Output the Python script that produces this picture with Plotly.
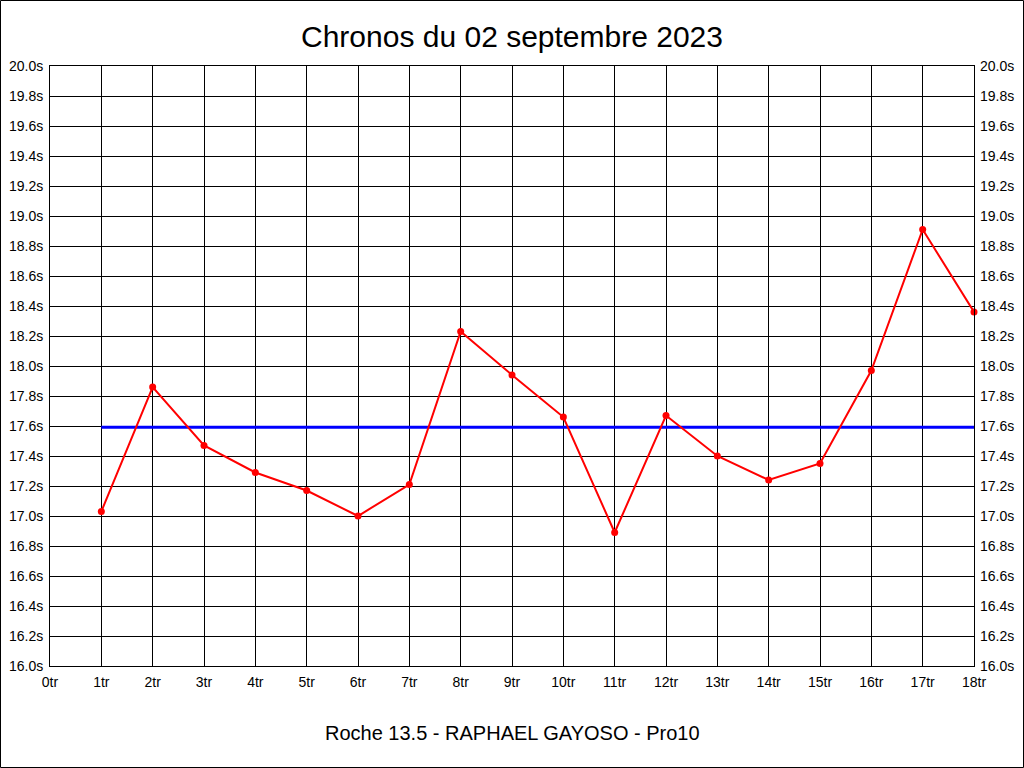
import plotly.graph_objects as go

laps = list(range(1, 19))
times = [17.03, 17.86, 17.47, 17.29, 17.17, 17.00, 17.21, 18.23, 17.94,
         17.66, 16.89, 17.67, 17.40, 17.24, 17.35, 17.97, 18.91, 18.36]
x_tickvals = list(range(0, 19))
x_ticktext = [f"{i}tr" for i in x_tickvals]
y_tickvals = [round(16.0 + 0.2 * i, 1) for i in range(21)]
y_ticktext = [f"{v:.1f}s" for v in y_tickvals]
title = "Chronos du 02 septembre 2023"
subtitle = "Roche 13.5 - RAPHAEL GAYOSO - Pro10"

avg = sum(times) / len(times)

W, H = 1024, 768
ml, mr, mt, mb = 50, 50, 66, 102
pw, ph = W - ml - mr, H - mt - mb

FONT = "Liberation Sans, Arial, sans-serif"

fig = go.Figure()
fig.add_trace(go.Scatter(x=[laps[0], laps[-1]], y=[avg, avg], mode="lines",
                         line=dict(color="#0000ff", width=3), hoverinfo="skip"))
fig.add_trace(go.Scatter(x=laps, y=times, mode="lines+markers",
                         line=dict(color="#ff0000", width=2),
                         marker=dict(color="#ff0000", size=7), cliponaxis=False))
fig.add_trace(go.Scatter(x=[0], y=[16.0], yaxis="y2", mode="markers",
                         marker=dict(opacity=0), hoverinfo="skip"))

axis_font = dict(family=FONT, size=14, color="black")
fig.update_layout(
    width=W, height=H,
    margin=dict(l=ml, r=mr, t=mt, b=mb, autoexpand=False),
    paper_bgcolor="white", plot_bgcolor="white",
    showlegend=False,
    title=dict(text=title, x=0.5, xanchor="center", y=1 - 36 / H, yanchor="middle",
               font=dict(family=FONT, size=30, color="black")),
    xaxis=dict(range=[0, 18], tickmode="array", tickvals=x_tickvals, ticktext=x_ticktext,
               showgrid=True, gridcolor="black", gridwidth=1, zeroline=False,
               showline=True, linecolor="black", linewidth=1, mirror=True,
               ticks="", tickfont=axis_font, ticklabelstandoff=3),
    yaxis=dict(range=[16.0, 20.0], tickmode="array", tickvals=y_tickvals, ticktext=y_ticktext,
               showgrid=True, gridcolor="black", gridwidth=1, zeroline=False,
               showline=True, linecolor="black", linewidth=1, mirror=True,
               ticks="", tickfont=axis_font, ticklabelstandoff=3),
    yaxis2=dict(range=[16.0, 20.0], tickmode="array", tickvals=y_tickvals, ticktext=y_ticktext,
                overlaying="y", side="right", showgrid=False, zeroline=False,
                showline=False, ticks="", tickfont=axis_font, ticklabelstandoff=5),
    annotations=[dict(text=subtitle, xref="paper", yref="paper", x=0.5,
                      y=(H - mb - 733) / ph,
                      xanchor="center", yanchor="middle", showarrow=False,
                      font=dict(family=FONT, size=20, color="black"))],
    shapes=[dict(type="rect", xref="paper", yref="paper",
                 x0=(0.5 - ml) / pw, x1=(W - 0.5 - ml) / pw,
                 y0=(H - mb - (H - 0.5)) / ph, y1=(H - mb - 0.5) / ph,
                 line=dict(color="black", width=1), fillcolor="rgba(0,0,0,0)", layer="below")],
)

fig.write_html("out.html", config={"displayModeBar": False},
               post_script="document.body.style.margin='0';document.body.style.overflow='hidden';")
